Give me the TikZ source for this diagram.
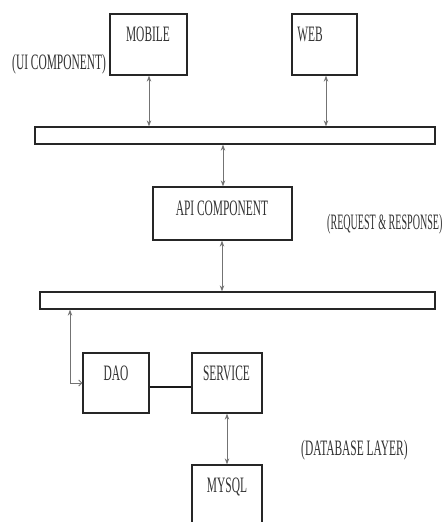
\documentclass[tikz,border=0pt]{standalone}
\usepackage{fontspec}
\setmainfont{Liberation Serif}
\newfontfamily\condfont[FakeStretch=0.52]{Liberation Serif}
\usetikzlibrary{arrows.meta}
\begin{document}
\begin{tikzpicture}[x=1pt,y=-1pt,
  box/.style={draw=black!85,line width=1.3pt,inner sep=0pt,rectangle},
  lbl/.style={font=\condfont\fontsize{22}{24}\selectfont,text=black!80,inner sep=0pt},
  conn/.style={draw=black!55,line width=0.9pt,{Stealth[length=6pt,width=4.5pt]}-{Stealth[length=6pt,width=4.5pt]}},
  conn1/.style={draw=black!55,line width=0.9pt,{Stealth[length=6pt,width=4.5pt]}-{Straight Barb[length=3pt,width=6pt]}},
  plain/.style={draw=black!90,line width=1.4pt}]
\path[use as bounding box] (0,0) rectangle (443,522);
\clip (0,0) rectangle (443,522);
\fill[white] (0,0) rectangle (443,522);
% boxes
\node[box,minimum width=77pt,minimum height=61pt] (mobile) at (148.5,44.5) {};
\node[box,minimum width=65pt,minimum height=61pt] (web) at (324.5,44.5) {};
\node[box,minimum width=400pt,minimum height=17pt] (bar1) at (235,135.5) {};
\node[box,minimum width=139pt,minimum height=53pt] (api) at (222.5,213.5) {};
\node[box,minimum width=395pt,minimum height=17pt] (bar2) at (237.5,300.5) {};
\node[box,minimum width=66pt,minimum height=60pt] (dao) at (116,383) {};
\node[box,minimum width=70pt,minimum height=60pt] (service) at (227,383) {};
\node[box,minimum width=70pt,minimum height=80pt] (mysql) at (227,505) {};
% labels
\node[lbl] (tmobile) at (148,34) {MOBILE};
\node[lbl] (tweb) at (310,34) {WEB};
\node[lbl,anchor=west] (tui) at (12,64) {(UI COMPONENT)};
\node[lbl] (tapi) at (222,208) {API COMPONENT};
\node[lbl,anchor=west] (treq) at (327,224) {\scalebox{0.88}[1]{(REQUEST \& RESPONSE)}};
\node[lbl] (tdao) at (116,373) {DAO};
\node[lbl] (tservice) at (226.5,373) {SERVICE};
\node[lbl,anchor=west] (tdb) at (301,450) {(DATABASE LAYER)};
\node[lbl] (tmysql) at (227,487) {MYSQL};
% connectors
\coordinate (m1) at (149,75);
\draw[conn] (mobile.south -| m1) -- (bar1.north -| m1);
\coordinate (w1) at (326,75);
\draw[conn] (web.south -| w1) -- (bar1.north -| w1);
\coordinate (a1) at (223,150);
\draw[conn] (bar1.south -| a1) -- (api.north -| a1);
\coordinate (a2) at (222,250);
\draw[conn] (api.south -| a2) -- (bar2.north -| a2);
\coordinate (d1) at (70,383);
\draw[conn1] (bar2.south -| d1) -- (d1) -- (dao.west |- d1);
\coordinate (s1) at (150,387);
\draw[plain] (dao.east |- s1) -- (service.west |- s1);
\coordinate (s2) at (227,420);
\draw[conn] (service.south -| s2) -- (mysql.north -| s2);
\end{tikzpicture}
\end{document}
